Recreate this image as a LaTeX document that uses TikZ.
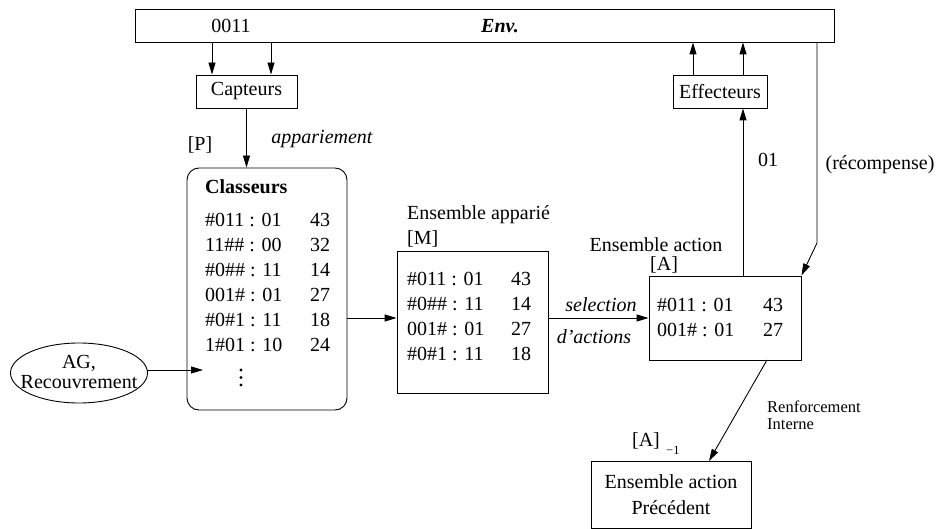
\documentclass[tikz,border=0pt]{standalone}
\usepackage{fontspec}
\setmainfont{Liberation Serif}
\usetikzlibrary{arrows.meta,shapes.geometric}
\begin{document}
\begin{tikzpicture}[x=1pt,y=-1pt,
  every node/.style={font=\fontsize{20}{24}\selectfont},
  box/.style={draw,line width=0.9pt,inner sep=0pt},
  txt/.style={inner sep=0pt,text height=15pt,text depth=2pt},
  small/.style={txt,font=\fontsize{16.5}{18}\selectfont},
  arr/.style={line width=0.9pt,-{Triangle[length=12pt,width=7pt]}},
  ln/.style={line width=0.9pt}]
\useasboundingbox (0,0) rectangle (937,529);
% boxes
\node[box,minimum width=699,minimum height=33] (env) at (484.5,25.5) {};
\node[txt] (t0011) at (231,26) {0011};
\node[txt,font=\fontsize{20}{24}\selectfont\bfseries\itshape] (tenv) at (500,26) {Env.};
\node[box,minimum width=101,minimum height=33] (cap) at (246.5,91.5) {Capteurs};
\node[box,minimum width=94,minimum height=33] (eff) at (720,91.5) {Effecteurs};
\node[box,rounded corners=12pt,minimum width=160,minimum height=242] (cls) at (267,289) {};
\node[box,minimum width=151,minimum height=142] (mset) at (472.5,322) {};
\node[box,minimum width=152,minimum height=84] (aset) at (725,318) {};
\node[box,minimum width=160,minimum height=67,align=center,
  font=\fontsize{20}{25.5}\selectfont] (prec) at (671,494.5) {Ensemble action\\Précédent};
\node[inner sep=0pt,align=center,font=\fontsize{20}{19.5}\selectfont] (ag) at (79,372) {AG,\\Recouvrement};
\draw[ln] (79,373) ellipse [x radius=68.5,y radius=30];
% Classeurs content
\node[txt,anchor=west,font=\fontsize{20}{24}\selectfont\bfseries] (clst) at (205,187) {Classeurs};
\node[txt,anchor=west] (c1) at (205,220) {\#011 : 01};
\node[txt] (n1) at (320,220) {43};
\node[txt,anchor=west] (c2) at (205,245) {11\#\# : 00};
\node[txt] (n2) at (320,245) {32};
\node[txt,anchor=west] (c3) at (205,270) {\#0\#\# : 11};
\node[txt] (n3) at (320,270) {14};
\node[txt,anchor=west] (c4) at (205,295) {001\# : 01};
\node[txt] (n4) at (320,295) {27};
\node[txt,anchor=west] (c5) at (205,320) {\#0\#1 : 11};
\node[txt] (n5) at (320,320) {18};
\node[txt,anchor=west] (c6) at (205,345) {1\#01 : 10};
\node[txt] (n6) at (320,345) {24};
\fill (241,370) circle [radius=1.6] (241,377.5) circle [radius=1.6] (241,385) circle [radius=1.6];
% M content
\node[txt,anchor=west] (mlab) at (407,213) {Ensemble apparié};
\node[txt,anchor=west] (mtag) at (407,238) {[M]};
\node[txt,anchor=west] (m1) at (407,279) {\#011 : 01};
\node[txt] (mn1) at (521,279) {43};
\node[txt,anchor=west] (m2) at (407,304) {\#0\#\# : 11};
\node[txt] (mn2) at (521,304) {14};
\node[txt,anchor=west] (m3) at (407,329) {001\# : 01};
\node[txt] (mn3) at (521,329) {27};
\node[txt,anchor=west] (m4) at (407,354) {\#0\#1 : 11};
\node[txt] (mn4) at (521,354) {18};
% A content
\node[txt] (alab) at (656,245) {Ensemble action};
\node[txt,anchor=west] (atag) at (650,264) {[A]};
\node[txt,anchor=west] (a1) at (657,305) {\#011 : 01};
\node[txt] (an1) at (773,305) {43};
\node[txt,anchor=west] (a2) at (657,330) {001\# : 01};
\node[txt] (an2) at (773,330) {27};
% labels
\node[txt] (plab) at (200,144) {[P]};
\node[txt,font=\fontsize{20}{24}\selectfont\itshape] (appar) at (322,137) {appariement};
\node[txt,font=\fontsize{20}{24}\selectfont\itshape] (sel) at (601,305) {selection};
\node[txt,font=\fontsize{20}{24}\selectfont\itshape] (dact) at (594,337) {d’actions};
\node[txt] (o1) at (768,160) {01};
\node[txt] (rec) at (880,163) {(récompense)};
\node[small,anchor=west] (renf) at (767,406) {Renforcement};
\node[small,anchor=west] (intr) at (767,423) {Interne};
\node[txt] (aprev) at (646,440) {[A]};
\node[inner sep=0pt,anchor=west,font=\fontsize{12.5}{13}\selectfont] (sub) at (666,450) {−1};
% coordinates
\coordinate (xc1) at (212,0);
\coordinate (xc2) at (271,0);
\coordinate (xe1) at (693,0);
\coordinate (xe2) at (743,0);
\coordinate (xr) at (817,0);
\coordinate (rbend) at (817,243);
\coordinate (yarr) at (0,318);
\coordinate (agr) at (147.3,370);
\coordinate (agend) at (203,370);
\coordinate (rstart) at (767,360);
\coordinate (rend) at (709,461);
% connectors
\draw[arr] (env.south -| xc1) -- (cap.north -| xc1);
\draw[arr] (env.south -| xc2) -- (cap.north -| xc2);
\draw[arr] (eff.north -| xe1) -- (env.south -| xe1);
\draw[arr] (eff.north -| xe2) -- (env.south -| xe2);
\draw[arr] (cap.south) -- (cls.north -| cap.south);
\draw[arr] (cls.east |- yarr) -- (mset.west |- yarr);
\draw[arr] (mset.east |- yarr) -- (aset.west |- yarr);
\draw[arr] (aset.north -| xe2) -- (eff.south -| xe2);
\draw[arr] (env.south -| xr) -- (rbend) -- (aset.north east);
\draw[arr] (rstart) -- (rend);
\draw[arr] (agr) -- (agend);
\end{tikzpicture}
\end{document}
